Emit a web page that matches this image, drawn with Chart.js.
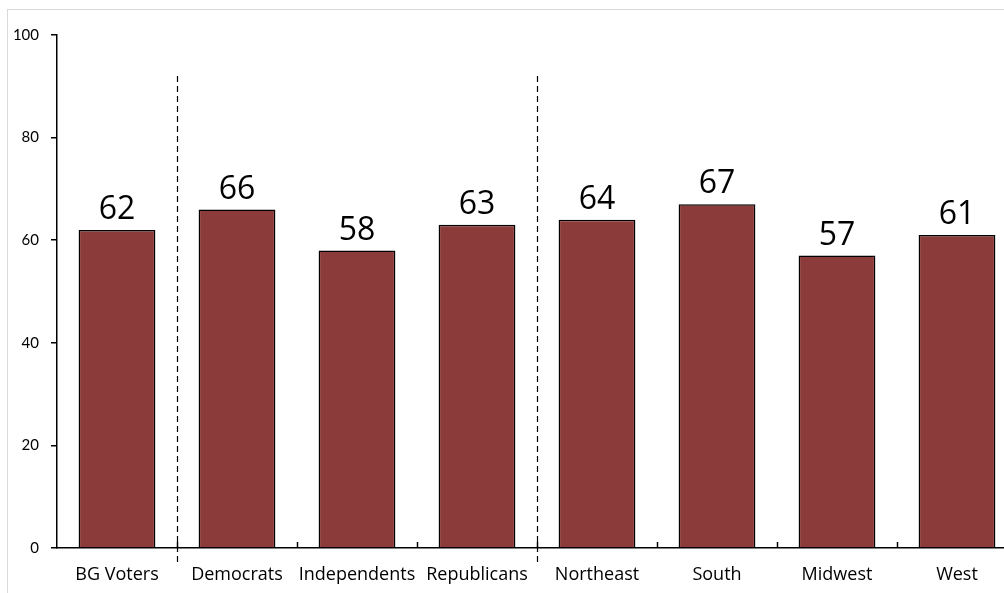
<!DOCTYPE html>
<html>
<head>
<meta charset="utf-8">
<script src="https://cdn.jsdelivr.net/npm/chart.js@4.4.1/dist/chart.umd.min.js"></script>
<style>
  html, body { margin: 0; padding: 0; background: #fff; overflow: hidden; }
  #wrap { position: relative; width: 1004px; height: 593px; overflow: hidden; }
  #frame { position: absolute; left: 7px; top: 9px; width: 1100px; height: 700px; border: 1px solid #d9d9d9; }
  canvas { position: absolute; left: 0; top: 0; }
</style>
</head>
<body>
<div id="wrap">
  <div id="frame"></div>
  <canvas id="chart" width="1020" height="593"></canvas>
</div>
<script>
const categories = ["BG Voters", "Democrats", "Independents", "Republicans", "Northeast", "South", "Midwest", "West"];
const values = [62, 66, 58, 63, 64, 67, 57, 61];
const yTicks = [0, 20, 40, 60, 80, 100];
// dashed separators sit after these category indexes
const separatorsAfter = [0, 3];

const labelFont = "'Open Sans', Lato, sans-serif";
const tickFont = "Lato, 'Open Sans', sans-serif";

// value labels, inward x ticks and dashed group separators
const extrasPlugin = {
  id: "extras",
  afterDatasetsDraw(chart) {
    const ctx = chart.ctx;
    const x = chart.scales.x;
    const y = chart.scales.y;
    const meta = chart.getDatasetMeta(0);
    const step = x.width / categories.length;

    ctx.save();
    ctx.fillStyle = "#000";
    ctx.font = "32px " + labelFont;
    ctx.textAlign = "center";
    ctx.textBaseline = "bottom";
    meta.data.forEach((bar, i) => {
      ctx.fillText(values[i], bar.x, bar.y - 4);
    });

    // small ticks pointing up from the x axis at category boundaries
    ctx.strokeStyle = "#000";
    ctx.lineWidth = 1.5;
    for (let i = 1; i < categories.length; i++) {
      const px = Math.round(x.getPixelForValue(i) - step / 2) + 0.5;
      ctx.beginPath();
      ctx.moveTo(px, y.bottom);
      ctx.lineTo(px, y.bottom - 6);
      ctx.stroke();
    }

    ctx.setLineDash([6, 4]);
    ctx.lineWidth = 1.2;
    separatorsAfter.forEach(i => {
      const px = Math.round(x.getPixelForValue(i) + step / 2) + 0.5;
      ctx.beginPath();
      ctx.moveTo(px, y.getPixelForValue(92));
      ctx.lineTo(px, y.bottom + 15);
      ctx.stroke();
    });
    ctx.restore();
  }
};

new Chart(document.getElementById("chart").getContext("2d"), {
  type: "bar",
  data: {
    labels: categories,
    datasets: [{
      data: values,
      backgroundColor: "#8B3B3A",
      borderColor: "#000",
      borderWidth: 1.5,
      barPercentage: 0.64,
      categoryPercentage: 1
    }]
  },
  options: {
    responsive: false,
    animation: false,
    layout: { padding: { top: 35, right: 3, left: 0, bottom: 0 } },
    plugins: {
      legend: { display: false },
      tooltip: { enabled: false }
    },
    scales: {
      x: {
        grid: { display: false, drawTicks: false },
        border: { color: "#000", width: 1.5 },
        ticks: {
          color: "#000",
          padding: 16,
          maxRotation: 0,
          autoSkip: false,
          font: { family: labelFont, size: 18 }
        },
        afterFit(scale) { scale.height = 45; }
      },
      y: {
        min: 0,
        max: 100,
        afterBuildTicks(scale) { scale.ticks = yTicks.map(v => ({ value: v })); },
        grid: { drawOnChartArea: false, drawTicks: true, tickLength: 6, color: "#000", lineWidth: 1.5 },
        border: { color: "#000", width: 1.5 },
        ticks: {
          color: "#000",
          padding: 12,
          font: { family: tickFont, size: 15 }
        },
        afterFit(scale) { scale.width = 57; }
      }
    }
  },
  plugins: [extrasPlugin]
});
</script>
</body>
</html>
